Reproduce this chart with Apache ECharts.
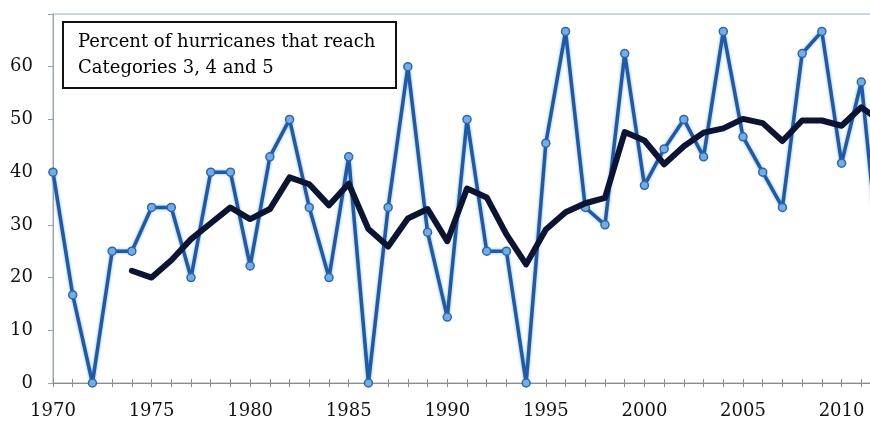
<!DOCTYPE html>
<html>
<head>
<meta charset="utf-8">
<script src="https://cdn.jsdelivr.net/npm/echarts@6/dist/echarts.min.js"></script>
<style>html,body{margin:0;padding:0;background:#fff}#c{width:870px;height:421px}</style>
</head>
<body>
<div id="c"></div>
<script>
var years = [1970,1971,1972,1973,1974,1975,1976,1977,1978,1979,1980,1981,1982,1983,1984,1985,1986,1987,1988,1989,1990,1991,1992,1993,1994,1995,1996,1997,1998,1999,2000,2001,2002,2003,2004,2005,2006,2007,2008,2009,2010,2011,2012];
var percentMajor = [40,16.7,0,25,25,33.3,33.3,20,40,40,22.2,42.9,50,33.3,20,42.9,0,33.3,60,28.6,12.5,50,25,25,0,45.5,66.7,33.3,30,62.5,37.5,44.4,50,42.9,66.7,46.7,40,33.3,62.5,66.7,41.7,57.1,20];
var avgYears = [1974,1975,1976,1977,1978,1979,1980,1981,1982,1983,1984,1985,1986,1987,1988,1989,1990,1991,1992,1993,1994,1995,1996,1997,1998,1999,2000,2001,2002,2003,2004,2005,2006,2007,2008,2009,2010,2011,2012];
var movingAvg = [21.3,20,23.3,27.3,30.3,33.3,31.1,33.0,39.0,37.7,33.7,37.8,29.2,25.9,31.2,33.0,26.9,36.9,35.2,28.2,22.5,29.1,32.4,34.1,35.1,47.6,46.0,41.5,44.9,47.5,48.3,50.1,49.3,45.9,49.8,49.8,48.8,52.3,49.6];
var yTicks = [0,10,20,30,40,50,60];
var xLabelYears = [1970,1975,1980,1985,1990,1995,2000,2005,2010];
var legendLines = ['Percent of hurricanes that reach','Categories 3, 4 and 5'];

var chart = echarts.init(document.getElementById('c'), null, {renderer:'canvas'});
var fontFam = '"DejaVu Serif", serif';
var blueData = years.map(function(y,i){return [y, percentMajor[i]];});
var avgData = avgYears.map(function(y,i){return [y, movingAvg[i]];});

chart.setOption({
  animation:false,
  backgroundColor:'#fff',
  grid:{left:53, width:828, top:14, height:369, show:true, borderColor:'#9aa9bd', borderWidth:1, backgroundColor:'transparent', outerBoundsMode:'none', containLabel:false},
  xAxis:[{
    type:'value', min:1970, max:2012, interval:1,
    axisLine:{show:true, lineStyle:{color:'#8c8c8c', width:1}},
    axisTick:{show:true, length:4, lineStyle:{color:'#8c8c8c'}},
    axisLabel:{fontFamily:fontFam, fontSize:18, color:'#111', margin:19,
      formatter:function(v){return xLabelYears.indexOf(v)>=0 ? String(v) : '';}},
    splitLine:{show:false}
  },{
    type:'value', min:1970, max:2012, interval:1, position:'bottom',
    axisLine:{show:false},
    axisTick:{show:true, inside:true, length:4, lineStyle:{color:'#8c8c8c'}},
    axisLabel:{show:false}, splitLine:{show:false}
  }],
  yAxis:{
    type:'value', min:0, max:70, interval:10,
    axisLine:{show:true, lineStyle:{color:'#9aa3ad', width:1}},
    axisTick:{show:true, length:5, lineStyle:{color:'#9aa3ad'}},
    axisLabel:{fontFamily:fontFam, fontSize:18, color:'#111', margin:20,
      formatter:function(v){return yTicks.indexOf(v)>=0 ? String(v) : '';}},
    splitLine:{show:false}
  },
  series:[{
    type:'line', data:blueData, xAxisIndex:0,
    symbol:'circle', symbolSize:8,
    lineStyle:{color:'#1f5aa6', width:3.5, shadowColor:'rgba(110,165,225,0.9)', shadowBlur:3},
    itemStyle:{color:'#72aee4', borderColor:'#2c66b0', borderWidth:1.5},
    z:2
  },{
    type:'line', data:avgData, xAxisIndex:0,
    symbol:'none',
    lineStyle:{color:'#0b1433', width:6, join:'round', cap:'round'},
    z:3
  }],
  graphic:[{
    type:'group', left:62, top:21, z:100,
    children:[{
      type:'rect', shape:{x:0,y:0,width:333,height:66},
      style:{fill:'#fff', stroke:'#111', lineWidth:2}
    },{
      type:'text', x:15, y:7,
      style:{text:legendLines.join('\n'), font:'18px "DejaVu Serif", serif', fill:'#000', lineHeight:26}
    }]
  }]
});
</script>
</body>
</html>
